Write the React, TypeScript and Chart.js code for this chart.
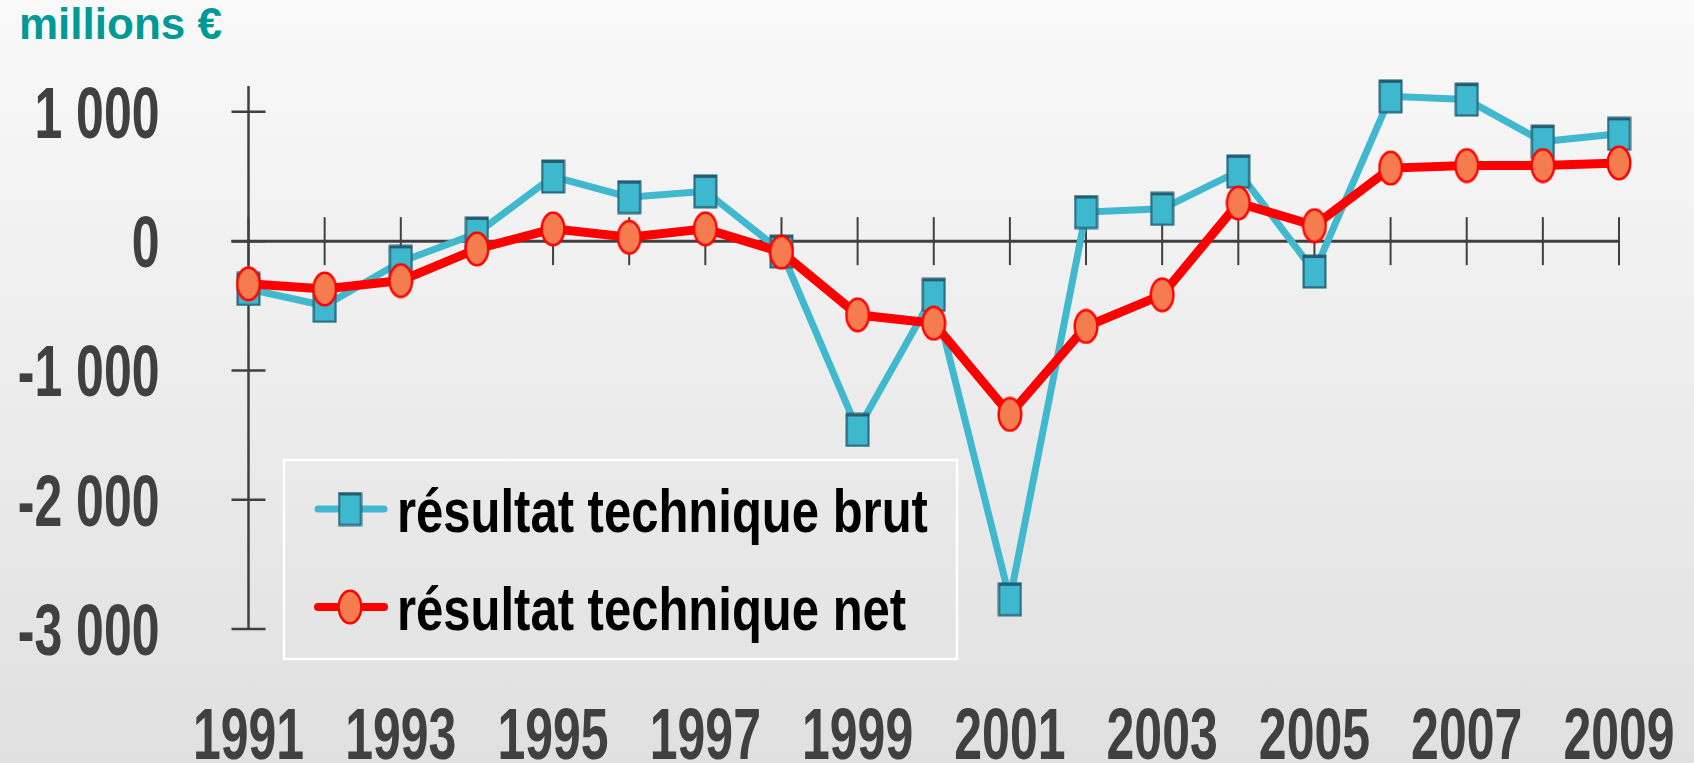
import React, { useEffect, useRef } from "react";
import { Chart, registerables } from "chart.js";

Chart.register(...registerables);

const years = [
  "1991", "1992", "1993", "1994", "1995", "1996", "1997", "1998", "1999", "2000",
  "2001", "2002", "2003", "2004", "2005", "2006", "2007", "2008", "2009",
];
const brut = [-370, -500, -160, 60, 500, 340, 385, -80, -1460, -415, -2770, 225, 250, 540, -235, 1120, 1095, 770, 830];
const net = [-330, -370, -305, -60, 95, 30, 95, -85, -570, -635, -1340, -660, -415, 295, 120, 565, 585, 585, 605];
const seriesNames = ["résultat technique brut", "résultat technique net"];
const yTickValues = [-3000, -2000, -1000, 0, 1000];
const yTickLabels = ["-3 000", "-2 000", "-1 000", "0", "1 000"];
const yMin = -3000;
const yMax = 1200;
const titleText = "millions €";

const AXIS = "#404040";
const CYAN = "#40B8CE";
const RED = "#FF0000";
const FONT = '"Liberation Sans", Arial, sans-serif';

function makeSquare(): HTMLCanvasElement {
  const c = document.createElement("canvas");
  c.width = 25;
  c.height = 35;
  const g = c.getContext("2d")!;
  g.fillStyle = "#3DB8CE";
  g.fillRect(1, 1, 23, 33);
  g.strokeStyle = "#2A6D80";
  g.lineWidth = 2.2;
  g.strokeRect(1.6, 1.6, 21.8, 31.8);
  g.fillStyle = "#245E70";
  g.fillRect(1, 1, 23, 3);
  return c;
}

function makeCircle(): HTMLCanvasElement {
  const c = document.createElement("canvas");
  c.width = 26;
  c.height = 36;
  const g = c.getContext("2d")!;
  g.beginPath();
  g.ellipse(13, 18, 11.3, 16.3, 0, 0, Math.PI * 2);
  g.fillStyle = "#F47C4E";
  g.fill();
  g.strokeStyle = RED;
  g.lineWidth = 2.4;
  g.stroke();
  return c;
}

function stretchedText(
  ctx: CanvasRenderingContext2D,
  text: string,
  x: number,
  baseline: number,
  sy: number,
  align: CanvasTextAlign
) {
  ctx.save();
  ctx.translate(x, baseline);
  ctx.scale(1, sy);
  ctx.textAlign = align;
  ctx.textBaseline = "alphabetic";
  ctx.fillText(text, 0, 0);
  ctx.restore();
}

export default function App() {
  const ref = useRef<HTMLCanvasElement | null>(null);

  useEffect(() => {
    if (!ref.current) return;
    const sq = makeSquare();
    const ci = makeCircle();

    const axesPlugin = {
      id: "crossAxes",
      beforeDatasetsDraw(chart: any) {
        const { ctx, chartArea } = chart;
        const x = chart.scales.x;
        const y = chart.scales.y;
        const xl = x.getPixelForValue(0);
        const xr = x.getPixelForValue(years.length - 1);
        const y0 = y.getPixelForValue(0);
        ctx.save();
        ctx.strokeStyle = AXIS;
        ctx.lineCap = "butt";
        // vertical axis
        ctx.lineWidth = 2.5;
        ctx.beginPath();
        ctx.moveTo(xl, chartArea.top);
        ctx.lineTo(xl, y.getPixelForValue(yMin));
        ctx.stroke();
        // y ticks
        for (const v of yTickValues) {
          const py = y.getPixelForValue(v);
          ctx.beginPath();
          ctx.moveTo(xl - 17, py);
          ctx.lineTo(xl + 17, py);
          ctx.stroke();
        }
        // zero line
        ctx.lineWidth = 3;
        ctx.beginPath();
        ctx.moveTo(xl - 17, y0);
        ctx.lineTo(xr, y0);
        ctx.stroke();
        // x ticks crossing zero line
        ctx.lineWidth = 2;
        years.forEach((_yr, i) => {
          const px = x.getPixelForValue(i);
          ctx.beginPath();
          ctx.moveTo(px, y0 - 24);
          ctx.lineTo(px, y0 + 24);
          ctx.stroke();
        });
        ctx.restore();
      },
      afterDatasetsDraw(chart: any) {
        const { ctx, chartArea } = chart;
        const x = chart.scales.x;
        const y = chart.scales.y;
        const xl = x.getPixelForValue(0);
        ctx.save();
        // y labels
        ctx.fillStyle = AXIS;
        ctx.font = `bold 50px ${FONT}`;
        yTickValues.forEach((v, k) => {
          const py = y.getPixelForValue(v);
          stretchedText(ctx, yTickLabels[k], xl - 89, py + 26, 1.46, "right");
        });
        // x labels (every other year)
        years.forEach((yr, i) => {
          if (i % 2 !== 0) return;
          const px = x.getPixelForValue(i);
          stretchedText(ctx, yr, px, chartArea.bottom + 130, 1.46, "center");
        });

        // legend
        const bx = chartArea.left + 35.5;
        const by = chartArea.top + 374;
        const bw = 673;
        const bh = 199;
        ctx.strokeStyle = "#FFFFFF";
        ctx.lineWidth = 2.5;
        ctx.strokeRect(bx, by, bw, bh);
        const rows = [
          { ds: 0, ly: by + 49, base: by + 72 },
          { ds: 1, ly: by + 147, base: by + 170 },
        ];
        ctx.font = `bold 49px ${FONT}`;
        for (const r of rows) {
          const d = chart.data.datasets[r.ds];
          ctx.strokeStyle = d.borderColor;
          ctx.lineWidth = r.ds === 0 ? 7 : 8;
          ctx.lineCap = "round";
          ctx.beginPath();
          ctx.moveTo(bx + 34, r.ly);
          ctx.lineTo(bx + 100, r.ly);
          ctx.stroke();
          const img = d.pointStyle as HTMLCanvasElement;
          ctx.drawImage(img, bx + 66 - img.width / 2, r.ly - img.height / 2);
          ctx.fillStyle = "#000000";
          stretchedText(ctx, d.label, bx + 113, r.base, 1.24, "left");
        }
        ctx.restore();
      },
    };

    const chart = new Chart(ref.current, {
      type: "line",
      data: {
        labels: years,
        datasets: [
          {
            label: seriesNames[0],
            data: brut,
            borderColor: CYAN,
            backgroundColor: CYAN,
            borderWidth: 7,
            pointStyle: sq,
            pointRadius: 12,
            order: 2,
            tension: 0,
            clip: false,
          },
          {
            label: seriesNames[1],
            data: net,
            borderColor: RED,
            backgroundColor: RED,
            borderWidth: 9,
            pointStyle: ci,
            pointRadius: 12,
            order: 1,
            tension: 0,
            clip: false,
          },
        ],
      },
      options: {
        animation: false,
        responsive: false,
        maintainAspectRatio: false,
        devicePixelRatio: 1,
        layout: { padding: { left: 248.5, top: 86, right: 75, bottom: 134 } },
        plugins: {
          legend: { display: false },
          tooltip: { enabled: false },
          title: { display: false },
        },
        scales: {
          x: { type: "category", display: false, offset: false },
          y: {
            type: "linear",
            display: false,
            min: yMin,
            max: yMax,
          },
        },
      },
      plugins: [axesPlugin],
    } as any);
    return () => chart.destroy();
  }, []);

  return (
    <div
      style={{
        position: "fixed",
        left: 0,
        top: 0,
        width: 1694,
        height: 763,
        background: "linear-gradient(to bottom, #f9f9f9 0%, #e0e0e0 100%)",
        overflow: "hidden",
      }}
    >
      <div
        style={{
          position: "absolute",
          left: 19,
          top: 2,
          font: `bold 44px ${FONT}`,
          lineHeight: "44px",
          color: "#009A96",
          whiteSpace: "nowrap",
        }}
      >
        {titleText}
      </div>
      <canvas ref={ref} width={1694} height={763} style={{ position: "absolute", left: 0, top: 0 }} />
    </div>
  );
}
